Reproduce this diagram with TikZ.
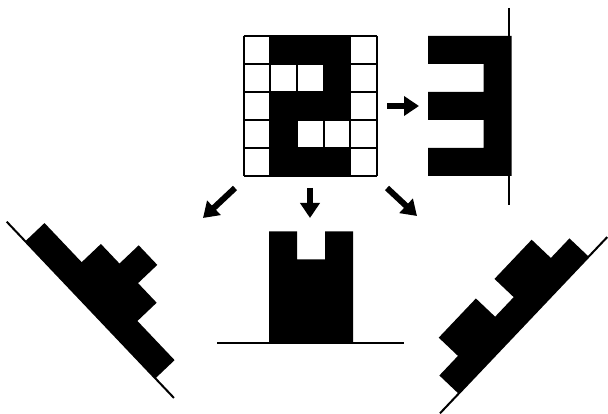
\documentclass[tikz,border=0pt]{standalone}
\usetikzlibrary{arrows.meta}

\begin{document}
\begin{tikzpicture}[
    x=1pt, y=-1pt,
    gridline/.style={line width=2pt},
    axisline/.style={line width=2pt},
    projarrow/.style={line width=6pt, -{Triangle[length=15pt, width=19pt]}}
]
    \useasboundingbox (0,0) rectangle (608,414);

    % digit on the grid
    \fill \foreach \c/\r in {1/0,2/0,3/0,3/1,1/2,2/2,3/2,1/3,1/4,2/4,3/4}
        {(243.5+26.7*\c, 36+28*\r) rectangle ++(26.7,28)};
    \foreach \i in {0,...,5} {
        \draw[gridline] (243.5+26.7*\i,36) -- (243.5+26.7*\i,176);
        \draw[gridline] (243.5,36+28*\i) -- (377,36+28*\i);
    }

    % row sums
    \draw[axisline] (509,8) -- (509,205);
    \fill \foreach \r/\n in {0/3,1/1,2/3,3/1,4/3}
        {(511.5,36+28*\r) rectangle ++(-27.8*\n,28)};

    % column sums
    \draw[axisline] (217,342.7) -- (404,342.7);
    \fill \foreach \c/\n in {1/4,2/3,3/4}
        {(241+28*\c,342.7) rectangle ++(28,-27.8*\n)};

    % anti-diagonal sums
    \begin{scope}[shift={(6.7,221.7)}, rotate=-46.5]
        \draw[axisline] (0,0) -- (243,0);
        \fill \foreach \s/\n in {1/1,2/1,3/2,4/3,5/2,6/1,7/1}
            {(27*\s,0) rectangle ++(27,-26.5*\n)};
    \end{scope}

    % diagonal sums
    \begin{scope}[shift={(440,413.3)}, rotate=46.5]
        \draw[axisline] (0,0) -- (243,0);
        \fill \foreach \s/\n in {1/1,2/2,3/2,4/1,5/2,6/2,7/1}
            {(27*\s,0) rectangle ++(27,-26.5*\n)};
    \end{scope}

    % arrows
    \coordinate (rightFrom) at (387,106);
    \coordinate (rightTo) at (419,106);
    \coordinate (downFrom) at (310,188);
    \coordinate (downTo) at (310,218);
    \coordinate (leftFrom) at (235,188);
    \coordinate (leftTo) at (203,218);
    \coordinate (diagFrom) at (387,188);
    \coordinate (diagTo) at (417,216);

    \draw[projarrow] (rightFrom) -- (rightTo);
    \draw[projarrow] (downFrom) -- (downTo);
    \draw[projarrow] (leftFrom) -- (leftTo);
    \draw[projarrow] (diagFrom) -- (diagTo);
\end{tikzpicture}
\end{document}
